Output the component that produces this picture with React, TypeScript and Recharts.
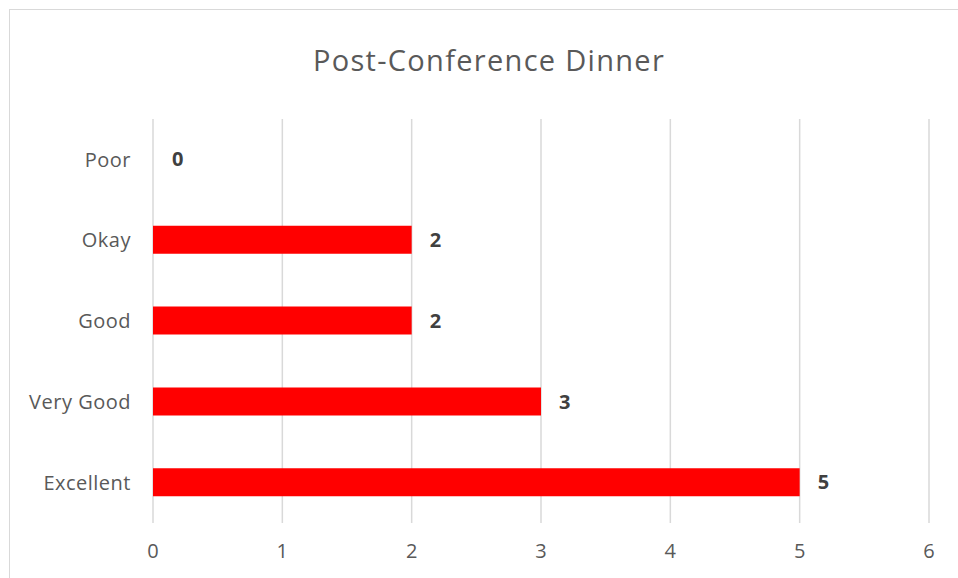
import React from 'react';
import { BarChart, Bar, XAxis, YAxis, CartesianGrid, LabelList, Cell } from 'recharts';

const ratings = ['Poor', 'Okay', 'Good', 'Very Good', 'Excellent'];
const counts = [0, 2, 2, 3, 5];
const xTicks = [0, 1, 2, 3, 4, 5, 6];

const data = ratings.map((name, i) => ({ name, count: counts[i] }));

const FONT = '"Open Sans", Lato, sans-serif';

export default function App() {
  return (
    <div
      style={{
        position: 'fixed',
        left: 0,
        top: 0,
        width: 958,
        height: 578,
        overflow: 'hidden',
        background: '#fff',
        fontFamily: FONT,
      }}
    >
      <div
        style={{
          position: 'absolute',
          left: 9,
          top: 9,
          width: 949,
          height: 569,
          borderTop: '1.5px solid #d9d9d9',
          borderLeft: '1.5px solid #d9d9d9',
          boxSizing: 'border-box',
        }}
      />
      <div
        style={{
          position: 'absolute',
          left: 0,
          top: 40,
          width: 978,
          textAlign: 'center',
          fontSize: 29,
          letterSpacing: 1.3,
          color: '#595959',
          lineHeight: '40px',
        }}
      >
        Post-Conference Dinner
      </div>
      <div style={{ position: 'absolute', left: 0, top: 0 }}>
        <BarChart
          width={958}
          height={578}
          data={data}
          layout="vertical"
          margin={{ top: 119, right: 29, bottom: 0, left: 0 }}
        >
          <CartesianGrid horizontal={false} stroke="#d9d9d9" strokeWidth={1.5} />
          <XAxis
            type="number"
            domain={[0, 6]}
            ticks={xTicks}
            interval={0}
            axisLine={false}
            tickLine={false}
            tickSize={0}
            tickMargin={21}
            height={55}
            tick={{ fill: '#595959', fontSize: 20, fontFamily: FONT }}
          />
          <YAxis
            type="category"
            dataKey="name"
            width={153}
            axisLine={false}
            tickLine={false}
            tickSize={0}
            tickMargin={22}
            tick={{ fill: '#595959', fontSize: 20, letterSpacing: 0.5, fontFamily: FONT }}
          />
          <Bar dataKey="count" fill="#ff0000" barSize={28} minPointSize={1} isAnimationActive={false}>
            {data.map((d) => (
              <Cell key={d.name} fill={d.count === 0 ? 'transparent' : '#ff0000'} />
            ))}
            <LabelList
              dataKey="count"
              position="right"
              offset={18}
              fill="#404040"
              fontSize={20}
              fontWeight="bold"
              fontFamily={FONT}
            />
          </Bar>
        </BarChart>
      </div>
    </div>
  );
}
